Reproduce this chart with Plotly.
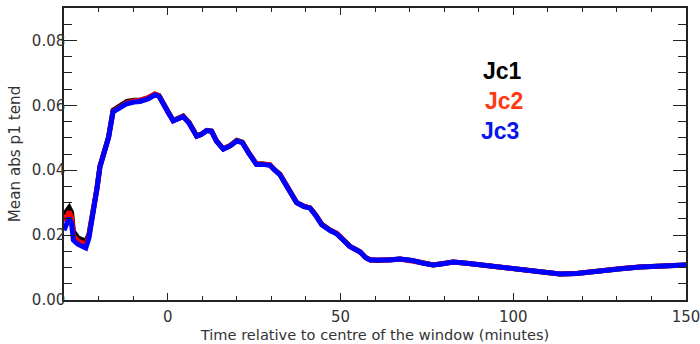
import plotly.graph_objects as go

# Time relative to the centre of the window (minutes)
time_min = [-30.0, -29.0, -28.5, -27.8, -27.3, -26.0, -24.5, -23.7, -22.8, -21.5,
            -20.5, -19.6, -18.8, -17.9, -17.1, -15.8, -14.1, -11.8, -9.7, -8.0,
            -5.7, -3.7, -2.5, -1.3, 0.3, 1.6, 3.2, 4.5, 6.2, 8.4,
            9.7, 11.3, 12.7, 14.1, 16.1, 18.1, 20.0, 21.6, 23.6, 25.7,
            27.5, 29.6, 31.0, 32.5, 34.5, 37.3, 39.4, 41.2, 42.9, 44.6,
            46.9, 48.9, 50.8, 52.7, 55.7, 57.3, 58.6, 60.7, 64.3, 67.2,
            70.7, 73.6, 76.8, 79.6, 82.6, 86.5, 90.5, 94.2, 98.4, 103.9,
            108.3, 113.5, 118.3, 125.2, 131.2, 136.7, 142.1, 148.0, 150.0]

# Mean absolute p1 tendency for each configuration
jc1 = [0.0262, 0.0282, 0.0285, 0.0270, 0.0212, 0.0192, 0.0186, 0.0181, 0.0202, 0.0276,
       0.0342, 0.0412, 0.0443, 0.0468, 0.0503, 0.0585, 0.0597, 0.0612, 0.0616, 0.0616,
       0.0623, 0.0634, 0.0630, 0.0610, 0.0577, 0.0553, 0.0559, 0.0567, 0.0547, 0.0506,
       0.0511, 0.0523, 0.0521, 0.0491, 0.0466, 0.0476, 0.0492, 0.0487, 0.0451, 0.0419,
       0.0419, 0.0416, 0.0401, 0.0387, 0.0351, 0.0301, 0.0289, 0.0284, 0.0261, 0.0233,
       0.0216, 0.0205, 0.0186, 0.0166, 0.0149, 0.0131, 0.0124, 0.0122, 0.0124, 0.0126,
       0.0122, 0.0114, 0.0108, 0.0112, 0.0117, 0.0113, 0.0108, 0.0104, 0.0101, 0.0094,
       0.0087, 0.0080, 0.0082, 0.0091, 0.0096, 0.0102, 0.0106, 0.0108, 0.0108]

jc2 = [0.0242, 0.0268, 0.0272, 0.0256, 0.0199, 0.0182, 0.0176, 0.0171, 0.0197, 0.0273,
       0.0341, 0.0411, 0.0442, 0.0466, 0.0502, 0.0582, 0.0593, 0.0608, 0.0614, 0.0615,
       0.0624, 0.0635, 0.0629, 0.0609, 0.0576, 0.0553, 0.0559, 0.0566, 0.0546, 0.0505,
       0.0510, 0.0522, 0.0520, 0.0490, 0.0466, 0.0476, 0.0491, 0.0486, 0.0452, 0.0419,
       0.0419, 0.0417, 0.0401, 0.0387, 0.0352, 0.0300, 0.0289, 0.0284, 0.0261, 0.0233,
       0.0216, 0.0206, 0.0186, 0.0165, 0.0148, 0.0130, 0.0123, 0.0122, 0.0123, 0.0126,
       0.0122, 0.0115, 0.0108, 0.0112, 0.0117, 0.0113, 0.0108, 0.0104, 0.0101, 0.0094,
       0.0087, 0.0080, 0.0082, 0.0091, 0.0097, 0.0102, 0.0106, 0.0108, 0.0108]

jc3 = [0.0215, 0.0245, 0.0253, 0.0235, 0.0185, 0.0172, 0.0166, 0.0160, 0.0190, 0.0270,
       0.0340, 0.0410, 0.0440, 0.0465, 0.0500, 0.0580, 0.0590, 0.0605, 0.0610, 0.0612,
       0.0620, 0.0632, 0.0628, 0.0608, 0.0575, 0.0552, 0.0558, 0.0565, 0.0545, 0.0505,
       0.0510, 0.0522, 0.0520, 0.0490, 0.0465, 0.0475, 0.0490, 0.0485, 0.0450, 0.0418,
       0.0418, 0.0415, 0.0400, 0.0386, 0.0350, 0.0300, 0.0288, 0.0283, 0.0260, 0.0232,
       0.0215, 0.0204, 0.0185, 0.0165, 0.0148, 0.0130, 0.0123, 0.0122, 0.0123, 0.0126,
       0.0122, 0.0114, 0.0108, 0.0112, 0.0117, 0.0113, 0.0108, 0.0104, 0.0101, 0.0094,
       0.0087, 0.0080, 0.0082, 0.0091, 0.0096, 0.0102, 0.0106, 0.0108, 0.0108]

series_names = ["Jc1", "Jc2", "Jc3"]
line_colors = ["#000000", "#ff0000", "#0000ff"]
label_colors = ["#000000", "#ff3814", "#0a14f0"]
label_pos = [(96.9, 0.0707), (97.2, 0.0614), (96.1, 0.0522)]

fig = go.Figure()
for name, vals, col in zip(series_names, [jc1, jc2, jc3], line_colors):
    fig.add_trace(go.Scatter(x=time_min, y=vals, mode="lines", name=name,
                             line=dict(color=col, width=5)))

for name, col, (lx, ly) in zip(series_names, label_colors, label_pos):
    fig.add_annotation(x=lx, y=ly, text="<b>%s</b>" % name, showarrow=False,
                       xanchor="center", yanchor="middle",
                       font=dict(family="Liberation Sans", size=23, color=col))

axis_font = dict(family="DejaVu Sans", size=15, color="#333333")
xtitle_font = dict(family="DejaVu Sans", size=14.6, color="#333333")
ytitle_font = dict(family="DejaVu Sans", size=15.2, color="#333333")

fig.update_xaxes(range=[-30, 150], tickvals=[0, 50, 100, 150],
                 ticktext=["0", "50", "100", "150"], automargin=False,
                 showgrid=False, zeroline=False, showline=True, linecolor="#222222",
                 linewidth=1.5, mirror="allticks", ticks="inside", ticklen=7,
                 tickcolor="#222222", tickwidth=1.2, ticklabelstandoff=2,
                 ticklabeloverflow="allow",
                 minor=dict(tickvals=[-20, -10, 10, 20, 30, 40, 60, 70, 80, 90,
                                      110, 120, 130, 140],
                            ticks="inside", ticklen=4, tickcolor="#222222", tickwidth=1.2),
                 tickfont=axis_font,
                 title=dict(text="Time relative to centre of the window (minutes)",
                            font=xtitle_font, standoff=0))

fig.update_yaxes(range=[0, 0.09], tickvals=[0, 0.02, 0.04, 0.06, 0.08],
                 ticktext=["0.00", "0.02", "0.04", "0.06", "0.08"], automargin=False,
                 showgrid=False, zeroline=False, showline=True, linecolor="#222222",
                 linewidth=1.5, mirror="allticks", ticks="inside", ticklen=13,
                 tickcolor="#222222", tickwidth=1.2, ticklabelstandoff=-6,
                 ticklabeloverflow="allow",
                 minor=dict(dtick=0.005, ticks="inside", ticklen=8, tickcolor="#222222",
                            tickwidth=1.2),
                 tickfont=axis_font,
                 title=dict(text="Mean abs p1 tend", font=ytitle_font, standoff=8))

fig.update_layout(width=700, height=344, margin=dict(l=64, r=14, t=8, b=44),
                  paper_bgcolor="white", plot_bgcolor="white", showlegend=False)

fig.write_html("out.html")
